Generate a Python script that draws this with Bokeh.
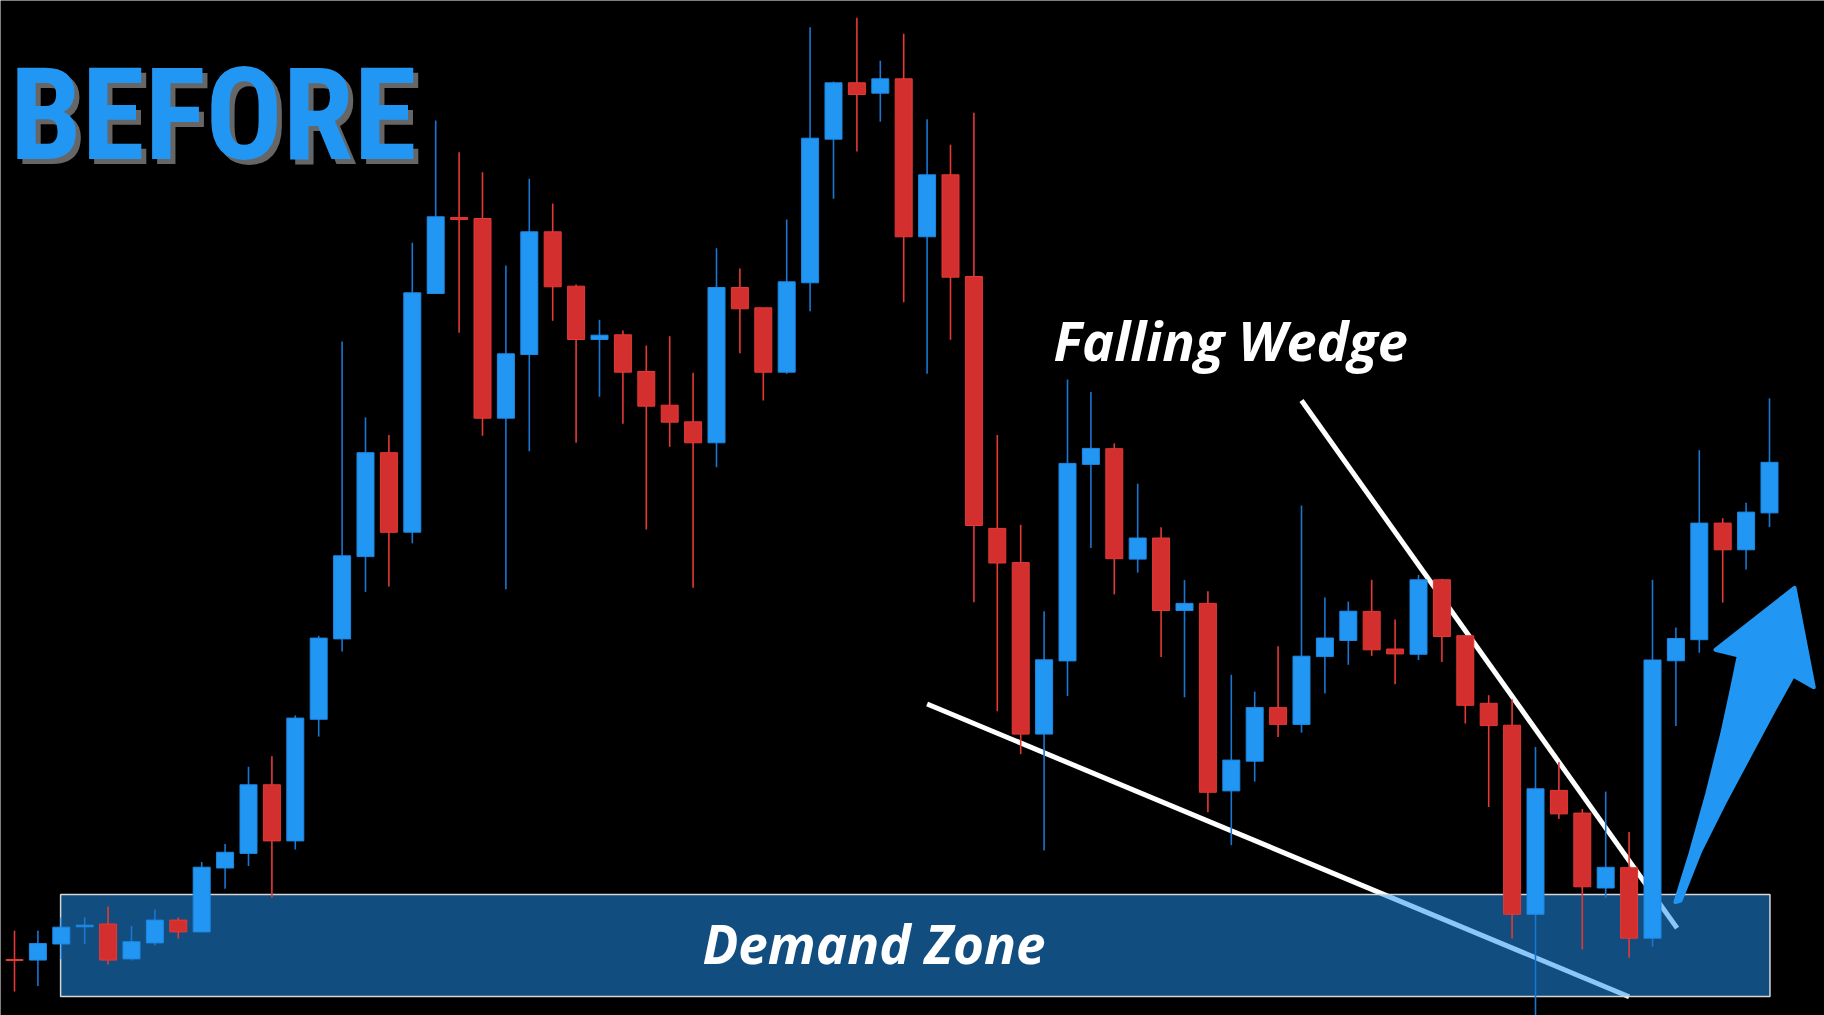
from bokeh.plotting import figure
from bokeh.models import Range1d, ColumnDataSource, Label
from bokeh.embed import file_html
from bokeh.resources import INLINE

# ---- candle data (price units) ----
opens = [56.0, 55.4, 71.5, 88.7, 91.5, 56.6, 72.6, 95.4, 83.6, 147.5,
         162.1, 230.7, 174.6, 296.2, 376.6, 458.9, 562.8, 483.3, 722.0, 798.0,
         797.0, 597.3, 661.0, 783.7, 729.3, 676.0, 680.7, 644.0, 610.3, 593.7,
         572.7, 728.0, 707.7, 643.3, 732.7, 876.3, 932.7, 922.3, 936.7, 778.7,
         840.7, 739.0, 487.1, 452.9, 281.4, 354.6, 551.1, 566.8, 456.4, 477.5,
         405.0, 412.1, 224.6, 254.3, 307.9, 291.1, 358.9, 375.0, 404.1, 366.5,
         361.2, 435.7, 379.8, 312.2, 290.3, 101.2, 225.1, 202.4, 127.5, 147.8,
         77.3, 354.7, 375.8, 492.4, 465.7, 502.6]
closes = [55.0, 71.9, 88.3, 90.3, 55.4, 73.8, 95.4, 83.6, 148.3, 163.2,
          230.7, 174.6, 297.4, 377.4, 459.7, 562.8, 483.2, 722.7, 798.7, 796.0,
          597.3, 661.7, 783.7, 728.7, 676.0, 680.3, 643.3, 609.3, 593.3, 572.7,
          728.0, 706.7, 643.3, 733.7, 877.3, 932.7, 921.0, 936.7, 778.7, 840.7,
          738.3, 490.0, 452.5, 281.4, 355.7, 552.1, 567.1, 456.8, 477.5, 405.0,
          412.1, 223.2, 255.4, 307.9, 291.1, 359.3, 377.5, 404.3, 365.7, 361.6,
          435.7, 379.0, 310.2, 289.9, 101.2, 226.7, 201.6, 128.7, 148.2, 77.3,
          355.5, 377.0, 492.4, 465.7, 503.4, 553.2]
highs = [84.8, 84.8, 98.1, 98.1, 109.1, 89.5, 106.0, 98.1, 153.4, 171.5,
         248.7, 259.3, 300.1, 379.7, 674.0, 598.1, 580.5, 772.7, 895.0, 863.3,
         843.3, 750.0, 836.7, 812.0, 731.0, 695.7, 685.0, 670.0, 679.3, 642.7,
         767.3, 747.0, 707.7, 796.0, 988.3, 934.0, 997.7, 954.7, 981.7, 896.3,
         870.7, 902.7, 580.4, 490.7, 404.3, 636.1, 623.6, 572.1, 531.8, 488.2,
         435.4, 424.3, 340.7, 323.9, 369.3, 510.0, 417.9, 413.9, 435.7, 396.0,
         440.6, 436.5, 379.8, 320.3, 316.2, 268.5, 253.5, 206.5, 223.9, 183.4,
         435.7, 387.9, 565.3, 497.3, 512.7, 617.2]
lows = [24.0, 29.5, 56.2, 71.5, 51.1, 55.0, 69.9, 77.0, 83.6, 126.8,
        149.5, 117.7, 166.0, 278.9, 364.0, 423.6, 429.1, 472.3, 722.0, 682.7,
        579.7, 426.3, 564.3, 694.7, 572.7, 618.7, 591.7, 486.0, 568.7, 427.7,
        548.3, 662.3, 615.0, 641.7, 704.3, 816.7, 864.0, 893.7, 713.3, 641.7,
        675.7, 413.2, 304.3, 261.4, 165.0, 319.6, 467.5, 421.1, 442.9, 358.6,
        318.2, 203.2, 170.4, 233.9, 278.6, 282.9, 322.1, 350.7, 359.6, 331.2,
        355.5, 353.5, 292.0, 208.5, 76.9, -20.0, 196.4, 66.0, 117.8, 57.8,
        68.8, 289.5, 362.8, 413.0, 445.9, 488.4]

# ---- annotations (data units: bar index, price) ----
zone_left, zone_right, zone_bottom, zone_top = 1.97, 75.02, 19.0, 121.0
lower_line_x, lower_line_y = [39.0, 69.0], [311.5, 18.8]
upper_line_x, upper_line_y = [55.0, 71.05], [615.0, 87.4]
arrow_x = [70.98, 71.62, 72.34, 72.98, 73.41, 73.69, 72.69, 76.07, 76.89, 76.01,
           75.18, 74.19, 73.05, 72.05, 71.20]
arrow_y = [113.3, 161.7, 221.7, 281.7, 328.3, 360.0, 365.7, 427.7, 328.3, 340.0,
           305.0, 261.7, 211.7, 165.0, 115.0]

BLUE, RED = "#2196F3", "#D32F2F"

n = len(opens)
xs = list(range(n))
up = [c >= o for o, c in zip(opens, closes)]
src = ColumnDataSource(dict(
    x=xs, open=opens, close=closes, high=highs, low=lows,
    top=[max(o, c) for o, c in zip(opens, closes)],
    bottom=[min(o, c) for o, c in zip(opens, closes)],
    fill=[BLUE if u else RED for u in up],
    edge=["#1E88E5" if u else "#E53935" for u in up],
    wick=["#1976D2" if u else "#E53935" for u in up],
))

p = figure(width=1824, height=1015,
           x_range=Range1d(-0.5983, 77.3504), y_range=Range1d(0, 1015),
           x_axis_type=None, y_axis_type=None,
           toolbar_location=None, output_backend="svg",
           background_fill_color="black", border_fill_color="black",
           outline_line_color=None, min_border=0)
p.grid.visible = False

# wedge lines (under the zone)
p.line(lower_line_x, lower_line_y, line_color="white", line_width=5)
p.line(upper_line_x, upper_line_y, line_color="white", line_width=5)

# demand zone
p.quad(left=[zone_left], right=[zone_right], bottom=[zone_bottom], top=[zone_top],
       fill_color=BLUE, fill_alpha=0.52, line_color="#d6d6d6", line_width=1.5)

# candles
p.segment(x0="x", y0="low", x1="x", y1="high", source=src, line_color="wick", line_width=1.6)
p.vbar(x="x", width=0.7265, top="top", bottom="bottom", source=src,
       fill_color="fill", line_color="edge", line_width=1)

# arrow
p.patch(arrow_x, arrow_y, fill_color=BLUE, line_color=BLUE, line_width=4, line_join="round")

# texts
label_font = "Open Sans"
p.add_layout(Label(x=44.4, y=675.7, text="Falling Wedge", text_color="white",
                   text_font=label_font, text_font_style="bold italic",
                   text_font_size="54px", text_baseline="alphabetic"))
p.add_layout(Label(x=29.4, y=72.3, text="Demand Zone", text_color="white",
                   text_font=label_font, text_font_style="bold italic",
                   text_font_size="53px", text_baseline="alphabetic"))

before_font = "'Roboto Condensed', 'Liberation Sans Narrow', sans-serif"
bx, by = -0.19, 901.0
p.add_layout(Label(x=bx + 5 / 23.4, y=by - 5, text="BEFORE", text_color="#666666",
                   text_font=before_font, text_font_style="bold",
                   text_font_size="128px", text_baseline="alphabetic"))
p.add_layout(Label(x=bx, y=by, text="BEFORE", text_color=BLUE,
                   text_font=before_font, text_font_style="bold",
                   text_font_size="128px", text_baseline="alphabetic"))

open("out.html", "w").write(file_html(p, INLINE))
